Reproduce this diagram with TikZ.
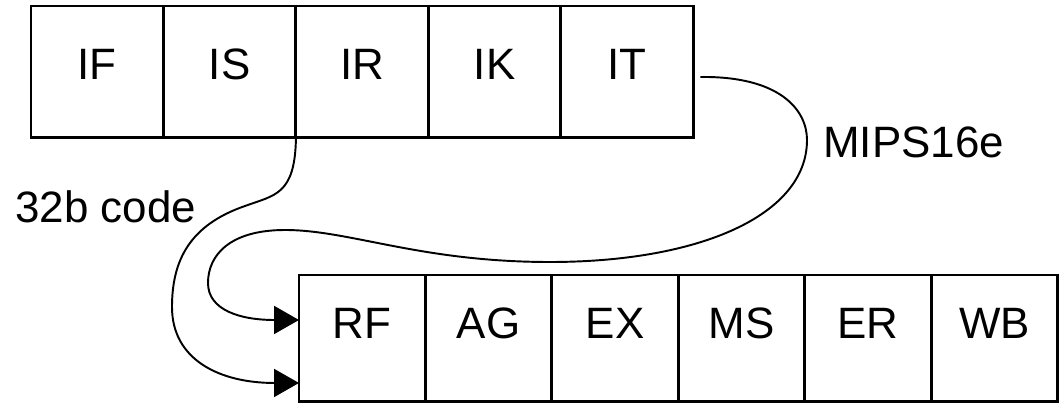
\documentclass[tikz, border = 0pt]{standalone}
\usepackage{fontspec}
\setmainfont{Liberation Sans}
\usetikzlibrary{positioning}
\usetikzlibrary{calc}
\usetikzlibrary{arrows.meta}

\tikzset{
	stage/.style = {draw = black, line width = 1.7pt, outer sep = 0pt, inner sep = 0pt, font = \fontsize{25}{30}\selectfont, text height = 17.9pt},
	fetch/.style = {stage, minimum width = 2.65cm, minimum height = 2.64cm, text depth = 9.8pt},
	exec/.style = {stage, minimum width = 2.53cm, minimum height = 2.54cm, text depth = 18.2pt},
	path/.style = {black, line width = 1.1pt},
	feed/.style = {path, -{Triangle[length = 0.5cm, width = 0.56cm]}},
	tag/.style = {font = \fontsize{25}{30}\selectfont, inner sep = 0pt, anchor = base west}
}

\begin{document}
\begin{tikzpicture}[x = 0.02cm, y = -0.02cm]
					\useasboundingbox (0, 0) rectangle (1059, 405);
					\node (if) at (31, 6) [fetch, anchor = north west] {IF};
					\node (is) [fetch, right = 0pt of if] {IS};
					\node (ir) [fetch, right = 0pt of is] {IR};
					\node (ik) [fetch, right = 0pt of ir] {IK};
					\node (it) [fetch, right = 0pt of ik] {IT};
					\node (rf) at (299, 275) [exec, anchor = north west] {RF};
					\node (ag) [exec, right = 0pt of rf] {AG};
					\node (ex) [exec, right = 0pt of ag] {EX};
					\node (ms) [exec, right = 0pt of ex] {MS};
					\node (er) [exec, right = 0pt of ms] {ER};
					\node (wb) [exec, right = 0pt of er] {WB};
					\coordinate (out16) at ($(it.east) + (7, 5)$);
					\coordinate (in16) at ($(rf.west) + (0, -18.5)$);
					\coordinate (in32) at ($(rf.south west) + (0, -19)$);
					\draw [feed] (ir.south west) .. controls (295, 195) and (275, 195) .. (245, 206) .. controls (190, 225) and (172, 260) .. (172, 307) .. controls (172, 360) and (220, 383) .. (in32);
					\draw [feed] (out16) .. controls (780, 76) and (807, 110) .. (807, 140) .. controls (807, 215) and (700, 262) .. (550, 262) .. controls (420, 262) and (350, 230) .. (285, 230) .. controls (230, 230) and (208, 255) .. (208, 283) .. controls (208, 310) and (240, 320) .. (in16);
					\node (code32) at (15, 223) [tag] {32b code};
					\node (mips16) at (823, 158) [tag] {MIPS16e};
				\end{tikzpicture}
\end{document}
